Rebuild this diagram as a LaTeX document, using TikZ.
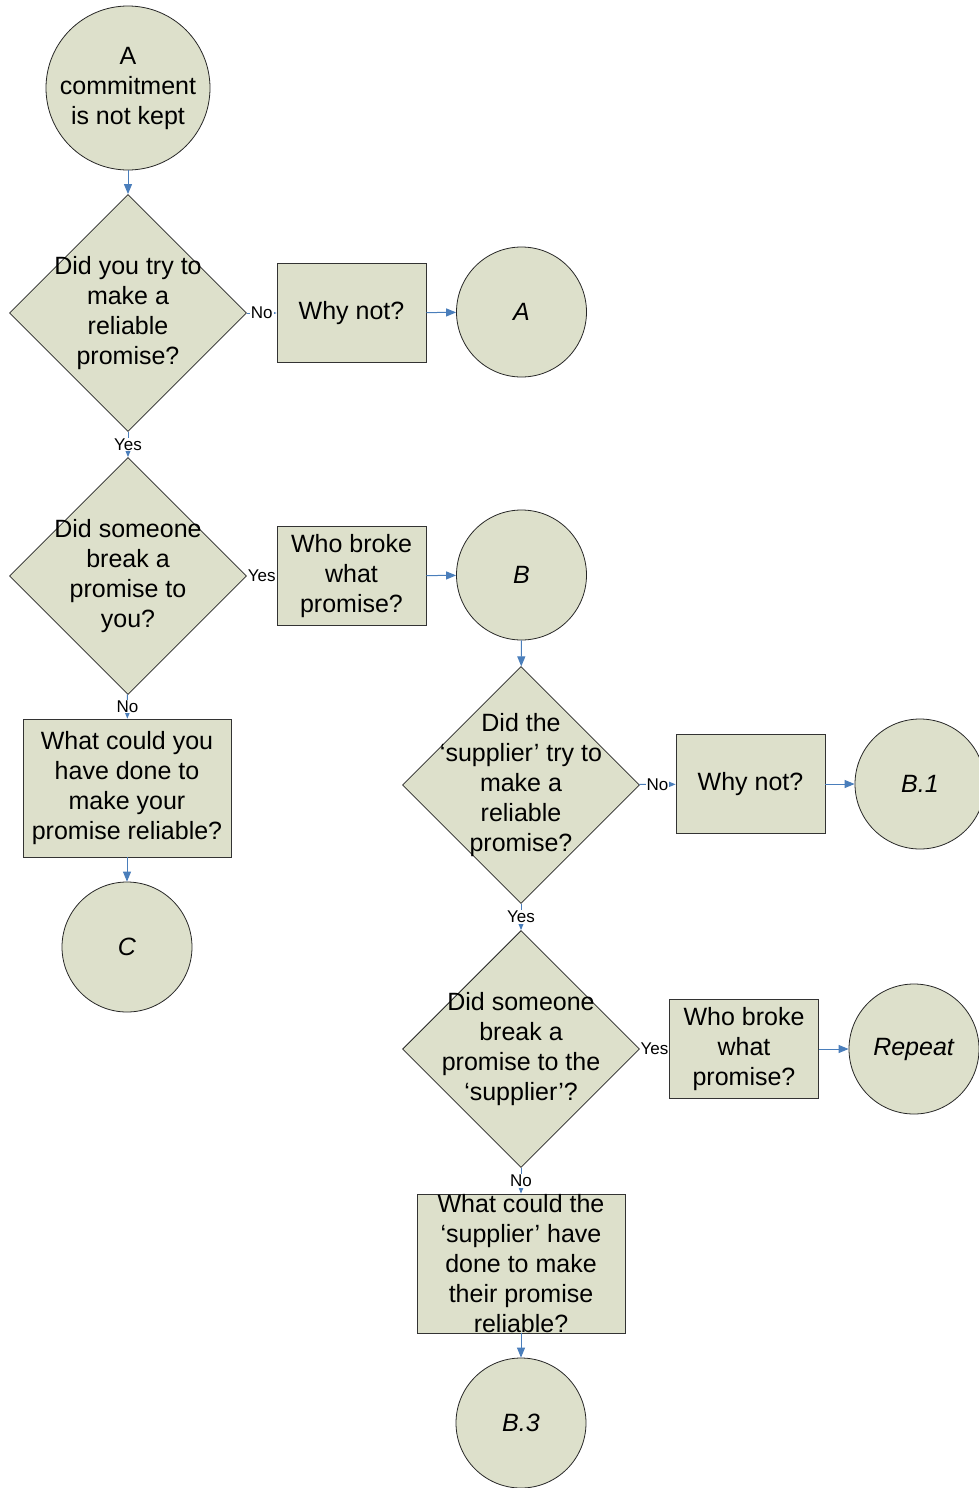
\documentclass[tikz,border=0pt]{standalone}
\usepackage{fontspec}
\setmainfont{Liberation Sans}
\usetikzlibrary{shapes.geometric}
\usetikzlibrary{arrows.meta}

\definecolor{sage}{RGB}{221,224,203}
\definecolor{flowblue}{RGB}{74,126,187}

\begin{document}
\begin{tikzpicture}[x=0.5pt, y=-0.5pt,
		every node/.style={font=\fontsize{12.5}{15}\selectfont, align=center},
		decision/.style={diamond, draw=black!85, fill=sage, aspect=1, minimum width=118.5pt, minimum height=118.5pt, inner sep=0pt},
		action/.style={rectangle, draw=black!80, fill=sage, minimum width=74.5pt, minimum height=49.5pt, inner sep=0pt},
		terminal/.style={circle, draw=black!85, fill=sage, minimum size=65pt, inner sep=0pt},
		answer/.style={fill=white, inner sep=0.5pt, font=\fontsize{8.5}{10}\selectfont},
		flow/.style={draw=flowblue, line width=0.5pt, -{Triangle[length=5pt, width=4pt]}}]
		\useasboundingbox (0,0) rectangle (979,1488);

		% left column
		\node[terminal, minimum size=82pt] (start) at (128,88) {A\\commitment\\is not kept};
		\node[decision, label={center:{Did you try to\\make a\\reliable\\promise?}}] (q1) at (128,313) {};
		\node[action] (why1) at (351.5,313) {Why not?};
		\node[terminal] (endA) at (521.5,312) {\textit{A}};
		\node[decision, label={center:{Did someone\\break a\\promise to\\you?}}] (q2) at (128,576) {};
		\node[action] (who1) at (351.5,576) {Who broke\\what\\promise?};
		\node[terminal] (endB) at (521.5,575) {\textit{B}};
		\node[action, minimum width=104pt, minimum height=69pt] (fix1) at (127,788) {What could you\\have done to\\make your\\promise reliable?};
		\node[terminal] (endC) at (127,947) {\textit{C}};

		% right column
		\node[decision, label={center:{Did the\\‘supplier’ try to\\make a\\reliable\\promise?}}] (q3) at (521,785) {};
		\node[action] (why2) at (750.5,784) {Why not?};
		\node[terminal] (endB1) at (920,784) {\textit{B.1}};
		\node[decision, label={center:{Did someone\\break a\\promise to the\\‘supplier’?}}] (q4) at (521,1049) {};
		\node[action] (who2) at (744,1049) {Who broke\\what\\promise?};
		\node[terminal] (endR) at (914,1049) {\textit{Repeat}};
		\node[action, minimum width=104pt, minimum height=69.5pt, label={center:{What could the\\‘supplier’ have\\done to make\\their promise\\reliable?}}] (fix2) at (521,1263.5) {};
		\node[terminal] (endB3) at (521,1423) {\textit{B.3}};

		% connectors
		\draw[flow] (start) -- (q1);
		\draw[flow] (q1) -- node[answer] {No} (why1);
		\draw[flow] (why1) -- (endA);
		\draw[flow] (q1) -- node[answer] {Yes} (q2);
		\draw[flow] (q2) -- node[answer] {Yes} (who1);
		\draw[flow] (who1) -- (endB);
		\draw[flow] (q2) -- node[answer] {No} (fix1);
		\draw[flow] (fix1) -- (endC);
		\draw[flow] (endB) -- (q3);
		\draw[flow] (q3) -- node[answer] {No} (why2);
		\draw[flow] (why2) -- (endB1);
		\draw[flow] (q3) -- node[answer] {Yes} (q4);
		\draw[flow] (q4) -- node[answer] {Yes} (who2);
		\draw[flow] (who2) -- (endR);
		\draw[flow] (q4) -- node[answer] {No} (fix2);
		\draw[flow] (fix2) -- (endB3);
\end{tikzpicture}
\end{document}
